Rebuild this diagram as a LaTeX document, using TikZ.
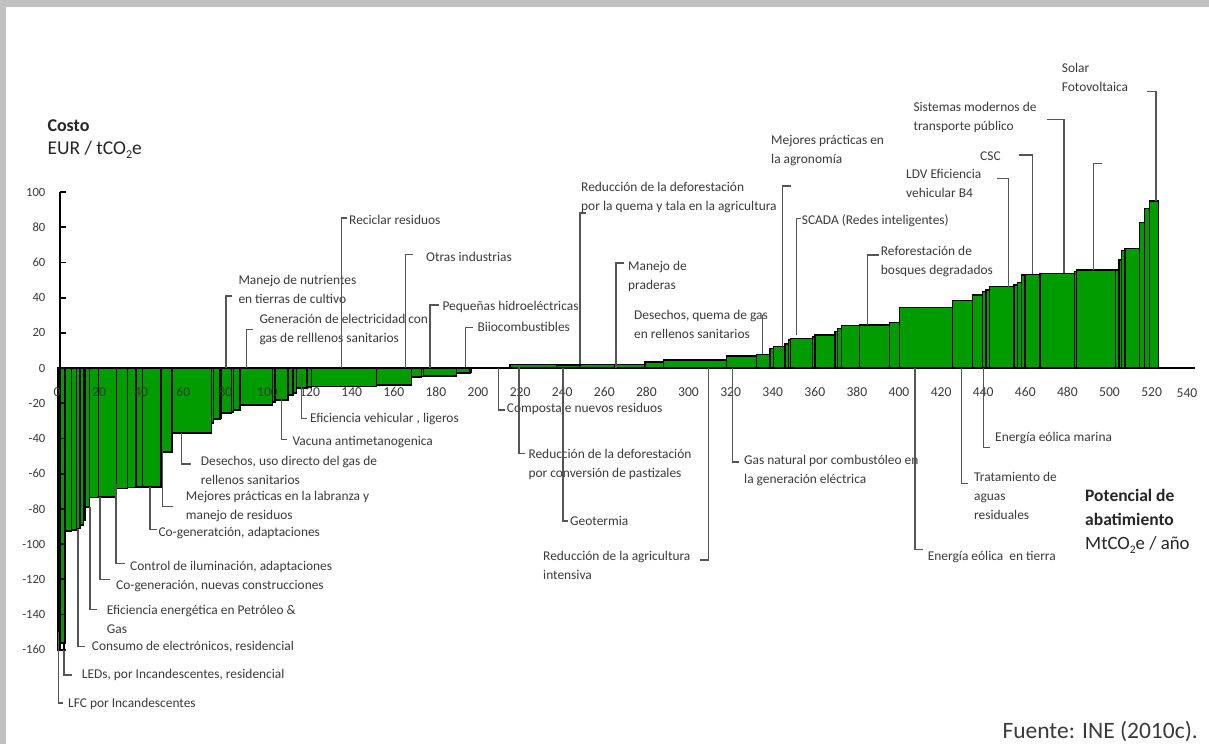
\documentclass[tikz,border=0pt]{standalone}
\usepackage{fontspec}
\setmainfont{Carlito}
\definecolor{bargreen}{RGB}{0,156,0}
\definecolor{txtgray}{RGB}{58,58,58}
\definecolor{leadgray}{RGB}{85,85,85}
\definecolor{framegray}{RGB}{192,192,192}

% leader from a bar to its label: vertical run, then a short horizontal stub
\newcommand\callout[8]{%
  \coordinate (#1-a) at (#2,#3);
  \coordinate (#1-b) at (#2,#4);
  \coordinate (#1-c) at (#5,#4);
  \draw[leader] (#1-a) -- (#1-b) -- (#1-c);
  \node[lbl] (#1) at (#6,#7+3.5) {\begin{tabular}[t]{@{}l@{}}#8\end{tabular}};
}

\begin{document}
\begin{tikzpicture}[x=1pt,y=-1pt,
  bar/.style={fill=bargreen, draw=black, line width=1.3pt},
  leader/.style={draw=leadgray, line width=1.5pt},
  lbl/.style={anchor=base west, inner sep=0pt, text=txtgray, font=\fontsize{13.4}{19}\selectfont},
  ticklbl/.style={inner sep=0pt, text=txtgray, font=\fontsize{13.6}{16}\selectfont},
  ytlbl/.style={inner sep=0pt, text=txtgray, font=\fontsize{12.6}{15}\selectfont, anchor=east},
  axisline/.style={line width=1.8pt, draw=black},
  title/.style={anchor=west, inner sep=0pt, text=black!85, font=\fontsize{18}{22}\selectfont}]

\useasboundingbox (0,0) rectangle (1209,744);
\fill[white] (0,0) rectangle (1209,744);
% page frame
\fill[framegray] (0,0) rectangle (1209,7);
\fill[framegray] (0,0) rectangle (6,744);

% lowest-cost measure, outlined below the neighbouring bar
\filldraw[fill=white, draw=black, line width=1.3pt] (58,368) rectangle (64,650);

% abatement cost bars (left edge / right edge / far end)
\foreach \xa/\xb/\yv in {
  58/65/643, 65/71.7/531, 71.7/76.7/530, 76.7/80/528.5, 80/83.3/525,
  83.3/85/520, 85/89.3/507, 89.3/98.3/497.3, 98.3/116.7/497,
  116.7/127.3/488.5, 127.3/136/487.7, 136/142.7/487, 142.7/161/487,
  161/172/452, 172/211.7/433, 211.7/213.3/423, 213.3/220/419,
  220/221.7/418, 221.7/231.7/413, 231.7/233.3/412, 233.3/240/410,
  240/272.7/405, 272.7/275/402, 275/288/400, 288/293/395, 293/296.7/393,
  296.7/307/388, 307/311.7/387, 311.7/376.7/386.7, 376.7/411.7/385,
  411.7/421.7/377, 421.7/423.3/376.5, 423.3/456.7/376, 456.7/470/373,
  470/471.5/372,
  510/556.7/364.3, 556.7/580/365, 580/615/364.3, 615/645/364.3,
  645/663.3/362, 663.3/726.7/360, 726.7/756.7/356, 756.7/770/354.3,
  770/773.3/348.3, 773.3/785/346.7, 785/788.3/344, 788.3/790.7/340,
  790.7/812.7/338.3, 812.7/815/337, 815/835/335, 835/837.3/331.7,
  837.3/841.7/328.3, 841.7/859.3/325.7, 859.3/889.3/325, 889.3/899.3/322.7,
  899.3/952.3/307.3, 952.3/972.5/300.7, 972.5/982.5/295, 982.5/986/291.7,
  986/989.3/290, 989.3/1014/286.7, 1014/1017.3/285, 1017.3/1021.7/282.3,
  1021.7/1025/275, 1025/1040/274.3, 1040/1074.3/273.3, 1074.3/1076.7/271.7,
  1076.7/1115.7/270, 1115.7/1119/270, 1119/1121.7/260, 1121.7/1125/250.7,
  1125/1139.3/248.3, 1139.3/1144.3/222.7, 1144.3/1149.3/208.3,
  1149.3/1158.3/201}
  \filldraw[bar] (\xa,368) rectangle (\xb,\yv);

% axes
\draw[axisline] (60,368) -- (1195,368);
\draw[axisline] (60,192) -- (60,650);
\foreach \k in {0,...,13}{
  \pgfmathsetmacro\ty{192+35.2*\k}
  \pgfmathtruncatemacro\tv{100-20*\k}
  \draw[axisline] (60,\ty) -- (65.5,\ty);
  \node[ytlbl] (yt\k) at (45.5,\ty) {\tv};
}
\foreach \k in {0,...,26}{
  \pgfmathsetmacro\tx{57+42.1*\k}
  \pgfmathtruncatemacro\tv{20*\k}
  \node[ticklbl] (xt\k) at (\tx,392) {\tv};
}
\node[ticklbl] (xt27) at (1187,393) {540};

% axis titles
\node[title, font=\fontsize{18}{22}\selectfont\bfseries] (ytitle) at (47.3,126) {Costo};
\node[title, font=\fontsize{19.5}{22}\selectfont] (yunit) at (47.3,150) {EUR / tCO\raisebox{-0.45ex}{\fontsize{12}{14}\selectfont 2}e};
\node[title, font=\fontsize{17.5}{22}\selectfont\bfseries] (xtitle1) at (1085,495) {Potencial de};
\node[title, font=\fontsize{17.5}{22}\selectfont\bfseries] (xtitle2) at (1085,519.3) {abatimiento};
\node[title, font=\fontsize{18.8}{22}\selectfont] (xunit) at (1085,545) {MtCO\raisebox{-0.45ex}{\fontsize{11.5}{14}\selectfont 2}e / año};

% measures with negative cost
\callout{c1}{58.3}{632}{703}{62.7}{68}{703.5}{LFC por Incandescentes}
\callout{c2}{64}{650}{675}{71.7}{81.7}{675}{LEDs, por Incandescentes, residencial}
\callout{c3}{78}{529}{646.7}{85}{91.7}{646.7}{Consumo de electrónicos, residencial}
\callout{c4}{90}{507}{609.3}{96.7}{106.7}{611}{Eficiencia energética en Petróleo \&\\Gas}
\callout{c5}{100}{497}{579.3}{110}{116}{585.7}{Co-generación, nuevas construcciones}
\callout{c6}{116}{484}{563.3}{125}{130}{566.7}{Control de iluminación, adaptaciones}
\callout{c7}{150}{487}{529.3}{157.3}{158.3}{532.7}{Co-generatción, adaptaciones}
\callout{c8}{162.7}{447}{506.7}{173.3}{185.7}{496.7}{Mejores prácticas en la labranza y\\manejo de residuos}
\callout{c9}{181.7}{433}{464}{190.7}{200.7}{461.7}{Desechos, uso directo del gas de\\rellenos sanitarios}
\callout{c10}{281.7}{397}{439.3}{286.7}{292.3}{441.7}{Vacuna antimetanogenica}
\callout{c11}{301.7}{375}{418.3}{306.7}{310}{419}{Eficiencia vehicular , ligeros}
\callout{c12}{498.3}{368}{410}{505}{506.7}{409.3}{Compostaje nuevos residuos}
\callout{c13}{519}{367}{453.3}{525}{528.3}{455}{Reducción de la deforestación\\por conversión de pastizales}
\callout{c14}{563}{368}{521}{568}{570}{522}{Geotermia}
\callout{c15}{708.3}{368}{560}{700}{543}{557}{Reducción de la agricultura\\intensiva}
\callout{c16}{732.3}{368}{462}{739}{744}{461}{Gas natural por combustóleo en\\la generación eléctrica}
\callout{c17}{915}{368}{549.3}{922.7}{927.7}{556.7}{Energía eólica\ \ en tierra}
\callout{c18}{961.7}{368}{483.3}{968.3}{974}{477.7}{Tratamiento de\\aguas\\residuales}
\callout{c19}{983.3}{368}{447.3}{990}{995}{437.7}{Energía eólica marina}

% measures with positive cost
\callout{c20}{226}{368}{296}{231.7}{238.3}{280.7}{Manejo de nutrientes\\en tierras de cultivo}
\callout{c21}{246.7}{368}{329.3}{252.7}{259.3}{320}{Generación de electricidad con\\gas de relllenos sanitarios}
\callout{c22}{341.7}{368}{218}{347}{349}{221}{Reciclar residuos}
\callout{c23}{405.7}{368}{254.3}{413.3}{426}{258.3}{Otras industrias}
\callout{c24}{430}{368}{305}{439.3}{442.3}{306.7}{Pequeñas hidroeléctricas}
\callout{c25}{465.7}{366.7}{327.3}{473.3}{477.3}{328.3}{Biiocombustibles}
\callout{c26}{580}{364}{213}{586}{581}{188}{Reducción de la deforestación\\por la quema y tala en la agricultura}
\callout{c27}{616}{368}{263}{624}{628}{267}{Manejo de\\praderas}
\callout{c28}{762.5}{354}{315}{762.5}{634}{315.7}{Desechos, quema de gas\\en rellenos sanitarios}
\callout{c29}{782.7}{353}{186}{790.7}{771}{141}{Mejores prácticas en\\la agronomía}
\callout{c30}{796.7}{335}{218.3}{801}{801.7}{221}{SCADA (Redes inteligentes)}
\callout{c31}{867.3}{325}{255}{879.3}{880.7}{252.3}{Reforestación de\\bosques degradados}
\callout{c32}{1008.3}{286.7}{178.5}{996.5}{906}{175}{LDV Eficiencia\\vehicular B4}
\callout{c33}{1032.3}{274.3}{155}{1019.3}{980}{156.7}{CSC}
\callout{c34}{1064}{273.3}{119.3}{1047.3}{913.3}{108.3}{Sistemas modernos de\\transporte público}
\coordinate (c35-a) at (1093.3,270);
\coordinate (c35-b) at (1093.3,163.3);
\coordinate (c35-c) at (1101.7,163.3);
\draw[leader] (c35-a) -- (c35-b) -- (c35-c);
\callout{c36}{1156}{201}{91.7}{1146.7}{1061.7}{69.3}{Solar\\Fotovoltaica}

% source note
\node[anchor=east, inner sep=0pt, text=txtgray, font=\fontsize{23.5}{26}\selectfont] (src) at (1198,732) {Fuente: INE (2010c).};
\end{tikzpicture}
\end{document}
